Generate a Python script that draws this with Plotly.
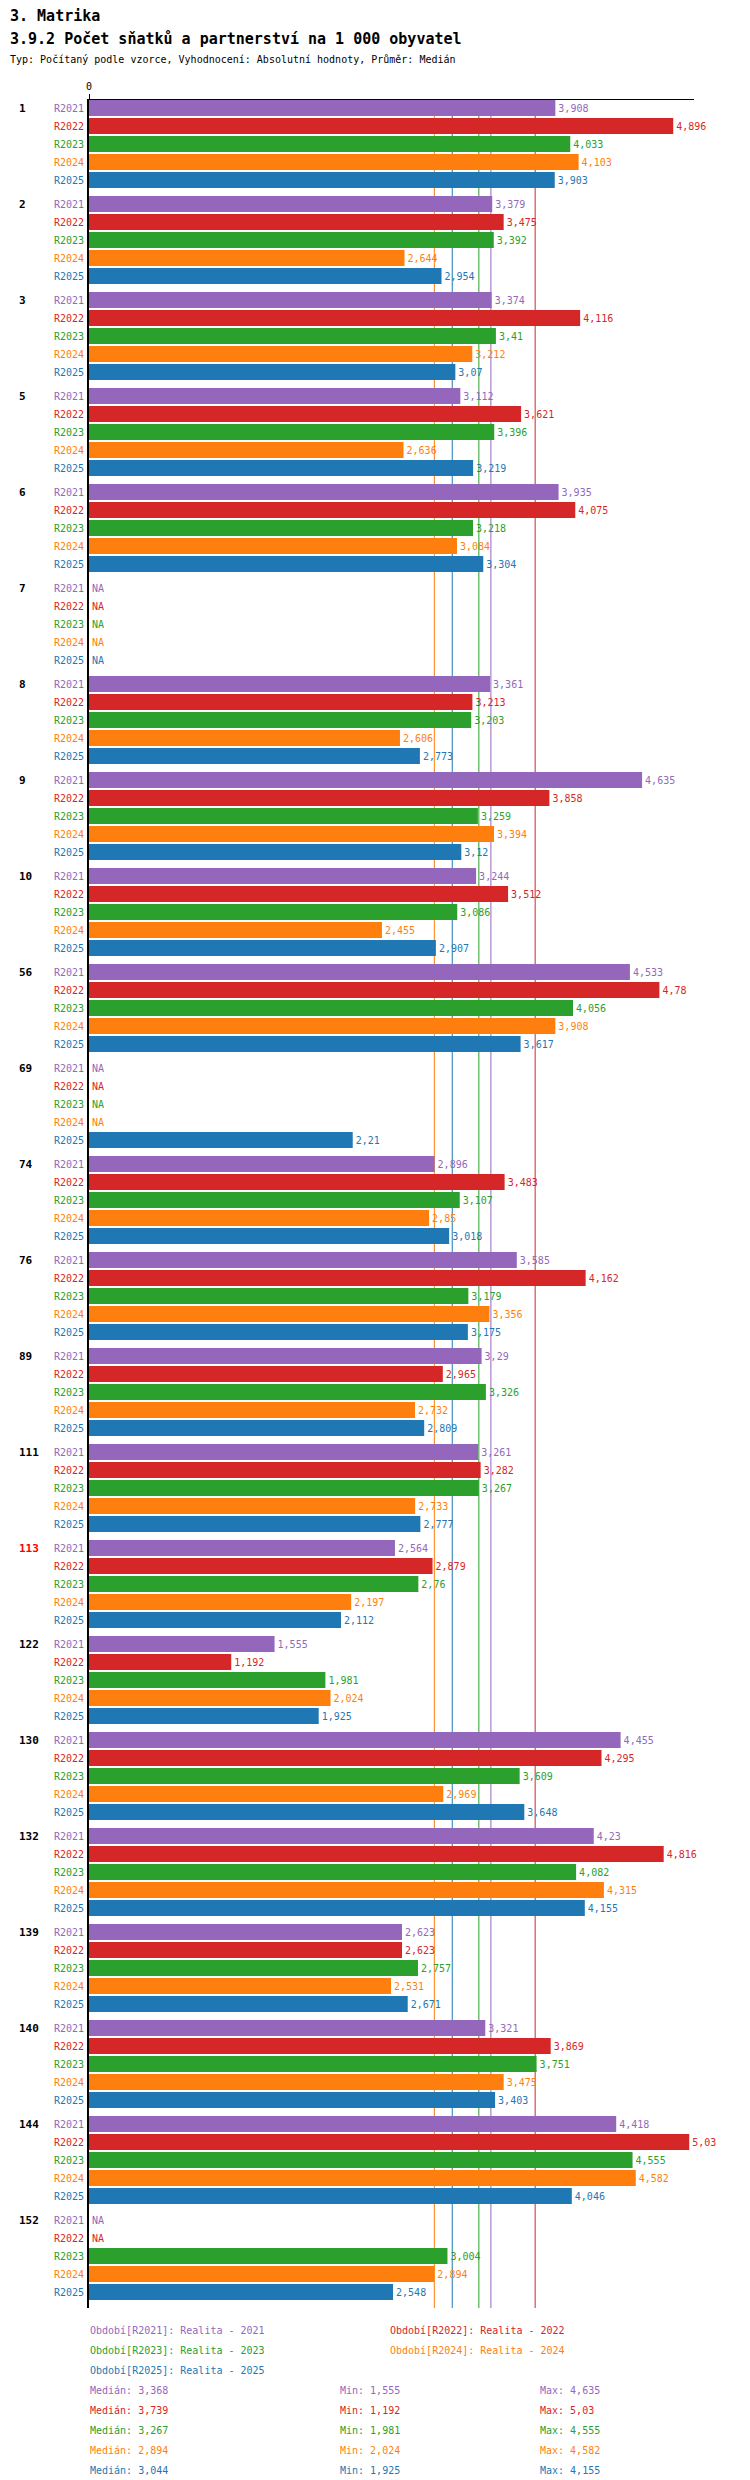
import plotly.graph_objects as go

# ---------------- data ----------------
groups = ["1", "2", "3", "5", "6", "7", "8", "9", "10", "56", "69", "74", "76",
          "89", "111", "113", "122", "130", "132", "139", "140", "144", "152"]
periods = ["R2021", "R2022", "R2023", "R2024", "R2025"]
NA = None
r2021 = [3.908, 3.379, 3.374, 3.112, 3.935, NA, 3.361, 4.635, 3.244, 4.533, NA, 2.896, 3.585,
         3.29, 3.261, 2.564, 1.555, 4.455, 4.23, 2.623, 3.321, 4.418, NA]
r2022 = [4.896, 3.475, 4.116, 3.621, 4.075, NA, 3.213, 3.858, 3.512, 4.78, NA, 3.483, 4.162,
         2.965, 3.282, 2.879, 1.192, 4.295, 4.816, 2.623, 3.869, 5.03, NA]
r2023 = [4.033, 3.392, 3.41, 3.396, 3.218, NA, 3.203, 3.259, 3.086, 4.056, NA, 3.107, 3.179,
         3.326, 3.267, 2.76, 1.981, 3.609, 4.082, 2.757, 3.751, 4.555, 3.004]
r2024 = [4.103, 2.644, 3.212, 2.636, 3.084, NA, 2.606, 3.394, 2.455, 3.908, NA, 2.85, 3.356,
         2.732, 2.733, 2.197, 2.024, 2.969, 4.315, 2.531, 3.475, 4.582, 2.894]
r2025 = [3.903, 2.954, 3.07, 3.219, 3.304, NA, 2.773, 3.12, 2.907, 3.617, 2.21, 3.018, 3.175,
         2.809, 2.777, 2.112, 1.925, 3.648, 4.155, 2.671, 3.403, 4.046, 2.548]
series = [r2021, r2022, r2023, r2024, r2025]
legend_names = ["Období[R2021]: Realita - 2021", "Období[R2022]: Realita - 2022",
                "Období[R2023]: Realita - 2023", "Období[R2024]: Realita - 2024",
                "Období[R2025]: Realita - 2025"]
medians = [3.368, 3.739, 3.267, 2.894, 3.044]
mins = [1.555, 1.192, 1.981, 2.024, 1.925]
maxs = [4.635, 5.03, 4.555, 4.582, 4.155]
colors = ["#9467bd", "#d62728", "#2ca02c", "#ff7f0e", "#1f77b4"]
highlight_group = "113"

# ---------------- layout geometry ----------------
W, H = 750, 2480
L, R, T, B = 81, 686, 92, 2300
FONT = "DejaVu Sans Mono"


def fmt(v):
    if v is None:
        return "NA"
    s = f"{v:.3f}".rstrip("0").rstrip(".")
    return s.replace(".", ",")


def px_x(px):
    return (px - L) / (R - L)


def px_y(py):
    return (B - py) / (B - T)


BAND = 96.0
PITCH = 18.0
BARH = 16.0
NG = len(groups)

fig = go.Figure()
annotations = []

for i, (vals, col, per) in enumerate(zip(series, colors, periods)):
    ys = [g + (PITCH * i + BARH / 2) / BAND for g in range(NG)]
    xs = [0 if v is None else v for v in vals]
    fig.add_trace(go.Bar(
        x=xs, y=ys, orientation="h", width=BARH / BAND,
        marker=dict(color=col, line=dict(width=0)),
        text=[fmt(v) for v in vals], textposition="outside",
        textfont=dict(family=FONT, size=10, color=col),
        constraintext="none", cliponaxis=False,
        hoverinfo="skip", showlegend=False,
    ))
    for y in ys:
        annotations.append(dict(
            x=0, xref="paper", y=y, yref="y", text=per, showarrow=False,
            xanchor="right", yanchor="middle", xshift=-3,
            font=dict(family=FONT, size=10, color=col)))

# group labels
for g, name in enumerate(groups):
    annotations.append(dict(
        x=px_x(9), xref="paper", y=g + (BARH / 2) / BAND, yref="y",
        text=f"<b>{name}</b>", showarrow=False, xanchor="left", yanchor="middle",
        font=dict(family=FONT, size=11, color="red" if name == highlight_group else "black")))

# titles
annotations.append(dict(x=px_x(0), y=px_y(8), xref="paper", yref="paper", text="<b>3. Matrika</b>",
                        showarrow=False, xanchor="left", yanchor="middle",
                        font=dict(family=FONT, size=15, color="black")))
annotations.append(dict(x=px_x(0), y=px_y(30.5), xref="paper", yref="paper",
                        text="<b>3.9.2 Počet sňatků a partnerství na 1 000 obyvatel</b>",
                        showarrow=False, xanchor="left", yanchor="middle",
                        font=dict(family=FONT, size=15, color="black")))
annotations.append(dict(x=px_x(0), y=px_y(51.5), xref="paper", yref="paper",
                        text="Typ: Počítaný podle vzorce, Vyhodnocení: Absolutní hodnoty, Průměr: Medián",
                        showarrow=False, xanchor="left", yanchor="middle",
                        font=dict(family=FONT, size=10, color="black")))

# legend entries
leg_pos = [(80, 2322), (380, 2322), (80, 2342), (380, 2342), (80, 2362)]
for (lx, ly), txt, col in zip(leg_pos, legend_names, colors):
    annotations.append(dict(x=px_x(lx), y=px_y(ly), xref="paper", yref="paper", text=txt,
                            showarrow=False, xanchor="left", yanchor="middle",
                            font=dict(family=FONT, size=10, color=col)))

# statistics
for i, col in enumerate(colors):
    ly = 2382 + 20 * i
    for lx, lab, v in [(80, "Medián", medians[i]), (330, "Min", mins[i]), (530, "Max", maxs[i])]:
        annotations.append(dict(x=px_x(lx), y=px_y(ly), xref="paper", yref="paper",
                                text=f"{lab}: {fmt(v)}", showarrow=False,
                                xanchor="left", yanchor="middle",
                                font=dict(family=FONT, size=10, color=col)))

# median lines, beneath the bars
shapes = []
for m, col in zip(medians, colors):
    shapes.append(dict(type="line", x0=m, x1=m, xref="x", y0=0, y1=1, yref="paper",
                       line=dict(color=col, width=1), layer="below"))

fig.update_layout(
    width=W, height=H,
    margin=dict(l=L, r=W - R, t=T, b=H - B, pad=0),
    paper_bgcolor="white", plot_bgcolor="white",
    barmode="overlay", showlegend=False,
    font=dict(family=FONT, size=10, color="black"),
    xaxis=dict(range=[0, 5.07], side="top", showgrid=False, zeroline=False,
               showline=True, linecolor="black", linewidth=1,
               tickmode="array", tickvals=[0], ticktext=["0"], ticks="outside",
               ticklen=5, tickcolor="black", tickfont=dict(family=FONT, size=10)),
    yaxis=dict(range=[NG, 0], showgrid=False, zeroline=False,
               showline=True, linecolor="black", linewidth=2,
               showticklabels=False, ticks=""),
    annotations=annotations, shapes=shapes,
)

fig.write_html("out.html")
